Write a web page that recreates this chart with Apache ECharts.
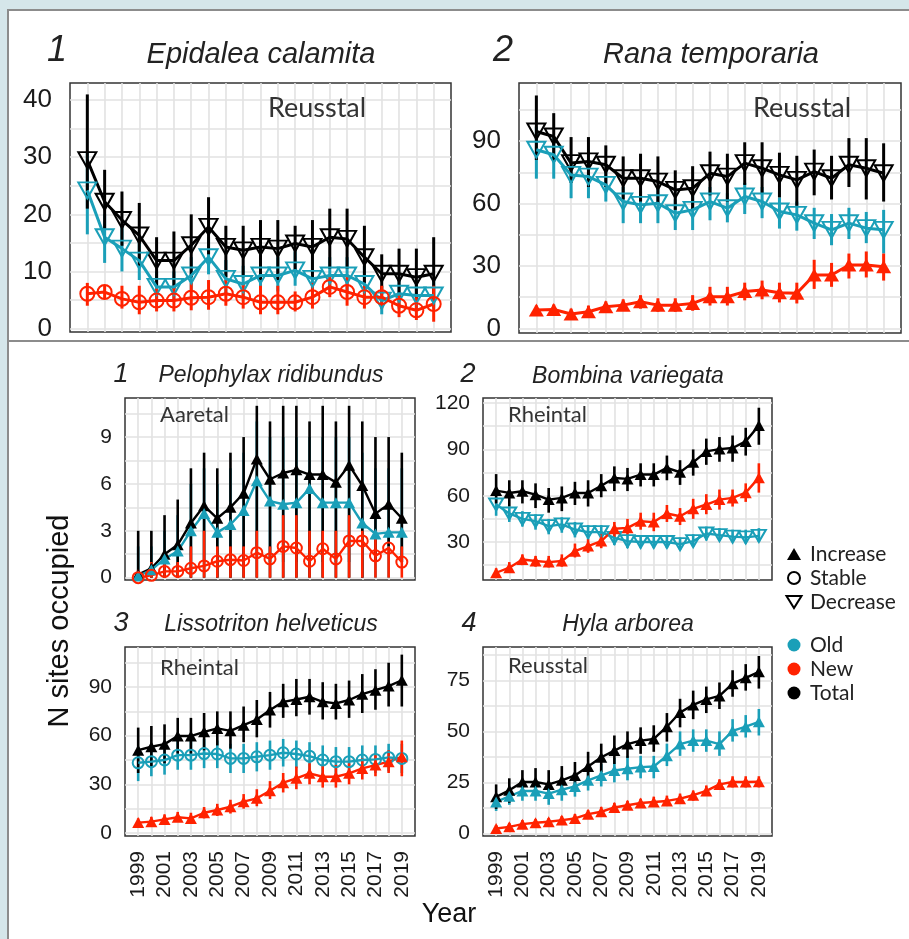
<!DOCTYPE html>
<html><head><meta charset="utf-8">
<script src="https://cdn.jsdelivr.net/npm/echarts@6.0.0/dist/echarts.min.js"></script>
<style>html,body{margin:0;padding:0;background:#d5e6ea;}#c{width:909px;height:939px;}</style>
</head><body><div id="c"></div>
<script>
// ---------- DATA ----------
const years = [1999,2000,2001,2002,2003,2004,2005,2006,2007,2008,2009,2010,2011,2012,2013,2014,2015,2016,2017,2018,2019];
const yearLabels = [1999,2001,2003,2005,2007,2009,2011,2013,2015,2017,2019];

// 1 Epidalea calamita (Reusstal)
const ecTotal   = [29.5,22.2,19,16.3,11.9,11.9,14.6,17.8,14.3,13.7,14.3,14,14.9,14.3,16,15.7,12.5,9.6,9.6,9,9.6];
const ecTotalHi = [41,27.8,24,22,16,17,20,23,18,18,19,19,18,19,21,21,18,13,14,14,16];
const ecTotalLo = [21,17.5,14.5,11,7.5,7,9,13,9,9,8.5,8.5,10,9,10.5,10.5,8,6,5.5,5,5];
const ecOld     = [24.2,16,14,11.9,7.3,7.3,9.3,12.5,8.7,7.8,9.3,9.3,10.2,8.7,9.3,9.3,7.8,4.9,6.1,5.8,5.8];
const ecOldHi   = [31,20,18,15.5,10,10,12.5,16,12,11,12.5,12.5,13.5,12,12.5,12.5,11,7.5,9,8.5,8.5];
const ecOldLo   = [16.5,11.5,10,8.5,5,5,6.5,9.5,6,5.5,6.5,6.5,7.5,6,6.5,6.5,5,2.5,3.5,3.5,3.5];
const ecNew     = [6.1,6.4,5.2,4.6,4.9,4.9,5.4,5.5,6.1,5.5,4.6,4.6,4.6,5.5,7.3,6.4,5.5,5.5,4,3.2,4.3];
const ecNewHi   = [8,7.5,7.5,7.5,7,7.5,8,8.5,8.5,8,7.5,7.5,6.5,8,9,9,7.5,7.5,6,5.5,7.5];
const ecNewLo   = [4,5.3,3.5,2.5,3,3,3.2,3.3,4,3.5,2.5,2.5,3,3.5,5.5,4,3.5,3.5,2,1.5,1.2];
const ecTicks   = [0,10,20,30,40];
const ecLines   = [0,5,10,15,20,25,30,35,40];

// 2 Rana temporaria (Reusstal)
const rtTotal   = [94.7,92.3,79.5,80.3,78.7,72.2,72.2,70.6,66.6,67.4,74.6,73,79.5,77,73.8,71.4,75.4,72.2,78.7,77,74.6];
const rtTotalHi = [112,103.5,92,92,88,82.7,84,82.7,76,78,85,84,89.5,89.5,84.5,83,86,83,91.5,91.5,89];
const rtTotalLo = [81,80,70,68,68,62,61,60,57,57,64,61,69,65,63,59,64,62,68,62,61];
const rtOld     = [85.9,83.5,73.8,73,69,61,59.4,60.2,55.4,57,61,57.8,63.4,61,56.2,54.6,50.6,47.4,50.6,48.2,47.4];
const rtOldHi   = [97,92,80,80,76,68,66,67,62,64,68,65,70,68,63,61,58,55,58,56,57];
const rtOldLo   = [72,72,62.6,62.6,61,50.6,50.6,50.6,47.3,47.3,52,51,55,53,48,47,43,40,43,41,36];
const rtNew     = [8.8,9.1,6.9,8,10.4,11.2,12.8,11.2,11.2,12,15.2,15.2,17.7,18.5,17.2,16.9,25.7,25.7,30.5,30.5,29.7];
const rtNewHi   = [11,11.5,9.5,11,13,14,16,14.5,14.5,16,20,20,22,23,22,22,33,31.5,36,37,36];
const rtNewLo   = [6.5,7,4.5,5.5,7.5,8.5,9.5,8,8,8.5,11,11,13.5,14,12.5,12,19,20,24,24.5,23];
const rtTicks   = [0,30,60,90];
const rtLines   = [0,15,30,45,60,75,90,105];

// B1 Pelophylax ridibundus (Aaretal)
const prTotal   = [0.2,0.6,1.5,2.1,3.5,4.6,3.8,4.5,5.4,7.6,6.3,6.7,6.9,6.6,6.6,6.1,7.2,5.9,4.1,4.7,3.8];
const prTotalHi = [3,3,4,5,7,8,7,8,9,11,10,11,11,10,11,10,11,10,9,9,8];
const prTotalLo = [0,0,0,0,0,0,0,0,0,0,0,0,0,0,0,0,0,0,1,2,1];
const prOld     = [0.1,0.5,1.2,1.7,3.0,4.1,2.9,3.4,4.3,6.2,4.9,4.7,4.8,5.7,4.8,4.8,4.8,3.5,2.8,2.9,2.9];
const prOldHi   = [2,2,3,4,6,7,6,7,8,10,9,9,9,9,9,9,9,8,7,7,7];
const prOldLo   = [0,0,0,0,0,1,0,0,1,2,1,1,1,2,1,1,1,0,0,0,1];
const prNew     = [0,0.15,0.4,0.4,0.6,0.75,1.05,1.15,1.1,1.6,1.2,2.0,1.9,1.05,1.85,1.2,2.35,2.35,1.4,1.9,1.0];
const prNewHi   = [0.5,1,1,1,2,3,2,2,2,3,2,4,4,3,3,3,4,3,3,2,2];
const prNewLo   = [0,0,0,0,0,0,0,0,0,0,0,0,0,0,0,0,0,0,0,0,0];
const prTicks   = [0,3,6,9];
const prLines   = [0,1.5,3,4.5,6,7.5,9,10.5];

// B2 Bombina variegata (Rheintal)
const bvTotal   = [63.3,61.8,62.9,60.7,57.5,58.6,61.8,61.8,66.5,71.5,70.9,73.7,73.7,78,75.2,81.6,88.7,90.2,90.9,95.2,105.5];
const bvTotalHi = [74,70,70,68,65,66,69,70,74,79,78,81,81,86,83,90,97,98,99,104,117];
const bvTotalLo = [55,53,55,52,49,50,54,53,59,63,63,66,66,70,67,73,80,82,82,86,93];
const bvOld     = [54.3,48.5,45,43.5,40.3,41.4,38.1,36.4,36.4,32.7,30.6,30,30,30,28.6,30.6,35.5,34.5,33.5,33,34];
const bvOldHi   = [59,53,50,48,45,46,43,41,41,37,35,34,34,34,33,35,40,39,38,38,39];
const bvOldLo   = [47,43,40,38,35,36,33,32,32,28,26,26,26,26,25,27,31,31,30,29,30];
const bvNew     = [10.1,13.4,18.7,17.7,17,17.7,24.1,27.4,30.6,38.6,39.2,43.5,42.9,48.5,46.7,51.5,54.3,57.5,58.6,62,71.7];
const bvNewHi   = [13,17,22,21,21,22,29,32,35,43,45,49,49,54,52,58,61,64,64,68,81];
const bvNewLo   = [7.5,10,15,14,13.5,14,20,23,26,33,34,38,37,43,41,45,48,51,53,56,62];
const bvTicks   = [30,60,90,120];
const bvLines   = [15,30,45,60,75,90,105,120];

// B3 Lissotriton helveticus (Rheintal)
const lhTotal   = [51.1,53.2,54.8,59.8,59.8,62.4,64.5,63,66.5,70,75.8,80.9,82.3,84,80.9,79.9,82,85.6,88.1,90.6,94.2];
const lhTotalHi = [65,66,67,71,71,74,75,75,78,82,87,92,95,95,93,92,94,98,101,105,110];
const lhTotalLo = [37,41,43,49,49,51,54,52,56,59,65,71,72,73,70,70,71,74,76,78,78];
const lhOld     = [43.3,44,45,48,48,49,48.7,46,46,47,48,49.5,48.7,47.4,45,44,44,45,45.4,46.6,46];
const lhOldHi   = [53,53,54,57,57,58,57,55,55,56,57,58,57,56,54,53,53,54,54,55,55];
const lhOldLo   = [32,35,36,39,39,40,40,37,37,38,39,41,40,39,36,35,35,36,37,38,37];
const lhNew     = [6.4,7,8.4,9.7,9,12.5,14.2,16.2,19.3,21.4,26.1,31,33.7,36.8,34.7,34.7,36.8,39.8,41.9,44,47];
const lhNewHi   = [9,10,11.5,13,12.5,16,18,20.5,24,27,32,37,41,43,42,42,43,46,48,51,57];
const lhNewLo   = [4,4.5,6,7,6.5,9,10.5,12,15,16.5,21,25,27,30,28,28,30,33,35,37,35];
const lhTicks   = [0,30,60,90];
const lhLines   = [0,15,30,45,60,75,90,105];

// B4 Hyla arborea (Reusstal)
const haTotal   = [17.9,21.1,25.2,25.2,24,26,28.4,32.8,37.3,40.6,43.8,45.5,46.3,52.3,59.3,63,65.7,67.4,73.4,76.3,79.2];
const haTotalHi = [24,27,31,32,31,33,35,40,44,48,50,52,53,59,66,70,72,74,80,83,87];
const haTotalLo = [12,15,19,19,18,20,22,26,30,34,37,39,40,45,52,56,59,61,67,70,71];
const haOld     = [15.4,18.2,20.8,20.8,19.5,21.4,23,26,28.4,30.8,31.7,32.5,32.8,38.1,43.8,45.5,45.5,43.8,50.3,52.3,54.7];
const haOldHi   = [19,23,25,26,25,27,28,32,34,37,38,38,38,44,50,51,51,50,56,58,61];
const haOldLo   = [11,14,16,16,14,16,18,21,23,25,26,27,27,33,38,40,40,38,45,47,48];
const haNew     = [2.4,3.2,4.5,5.2,5.7,6.5,7.3,9.4,10.6,12.7,13.8,14.9,15.4,15.9,17,18.7,20.8,24,25.2,25.2,25.3];
const haNewHi   = [4,5,6.5,7,7.5,8.5,9.5,11.5,13,15,16,17,18,18.5,19.5,21,23.5,26.5,28,28,28];
const haNewLo   = [1,1.5,2.5,3.5,4,4.5,5.5,7.5,8.5,10.5,11.5,12.5,13,13.5,14.5,16,18.5,21.5,22.5,22.5,22.5];
const haTicks   = [0,25,50,75];
const haLines   = [0,12.5,25,37.5,50,62.5,75,87.5];

// ---------- STYLE / LAYOUT ----------
const CYAN = '#1a9fb8', RED = '#ff2200', BLACK = '#000000';
const DOWN = 'path://M0,0L20,0L10,17.3Z';
const SANS = '"Liberation Sans", Arial, sans-serif';
const CAL = 'Lato, "Open Sans", sans-serif';

// s: [total, old, new] -> [colour, shape, values, lo, hi]
const panels = [
  {grid:{left:70,top:83,width:381,height:249}, ymin:-0.6, ymax:43, ticks:ecTicks, lines:ecLines, fs:26, lm:18, xl:false, big:true,
   s:[[BLACK,'down',ecTotal,ecTotalLo,ecTotalHi],[CYAN,'down',ecOld,ecOldLo,ecOldHi],[RED,'circle',ecNew,ecNewLo,ecNewHi]]},
  {grid:{left:519,top:83,width:382,height:250}, ymin:-2.2, ymax:118, ticks:rtTicks, lines:rtLines, fs:26, lm:18, xl:false, big:true,
   s:[[BLACK,'down',rtTotal,rtTotalLo,rtTotalHi],[CYAN,'down',rtOld,rtOldLo,rtOldHi],[RED,'up',rtNew,rtNewLo,rtNewHi]]},
  {grid:{left:125,top:398,width:290,height:182}, ymin:-0.15, ymax:11.5, ticks:prTicks, lines:prLines, fs:21, lm:13, xl:false, big:false,
   s:[[BLACK,'up',prTotal,prTotalLo,prTotalHi],[CYAN,'up',prOld,prOldLo,prOldHi],[RED,'circle',prNew,prNewLo,prNewHi]]},
  {grid:{left:483,top:398,width:289,height:182}, ymin:5.4, ymax:123.3, ticks:bvTicks, lines:bvLines, fs:21, lm:13, xl:false, big:false,
   s:[[BLACK,'up',bvTotal,bvTotalLo,bvTotalHi],[CYAN,'down',bvOld,bvOldLo,bvOldHi],[RED,'up',bvNew,bvNewLo,bvNewHi]]},
  {grid:{left:125,top:647,width:290,height:189}, ymin:-1.85, ymax:114.7, ticks:lhTicks, lines:lhLines, fs:21, lm:13, xl:true, big:false,
   s:[[BLACK,'up',lhTotal,lhTotalLo,lhTotalHi],[CYAN,'circle',lhOld,lhOldLo,lhOldHi],[RED,'up',lhNew,lhNewLo,lhNewHi]]},
  {grid:{left:483,top:647,width:289,height:189}, ymin:-1.3, ymax:91.4, ticks:haTicks, lines:haLines, fs:21, lm:13, xl:true, big:false,
   s:[[BLACK,'up',haTotal,haTotalLo,haTotalHi],[CYAN,'up',haOld,haOldLo,haOldHi],[RED,'up',haNew,haNewLo,haNewHi]]}
];

const grids = [], xAxes = [], yAxes = [], series = [];
panels.forEach((p, i) => {
  grids.push(Object.assign({show:true, backgroundColor:'#fff', borderColor:'#333', borderWidth:1.5, containLabel:false}, p.grid));
  xAxes.push({type:'value', gridIndex:i, min:1998, max:2020,
    axisLine:{show:false}, axisTick:{show:false, customValues:years},
    splitLine:{show:true, lineStyle:{color:'#e2e2e2', width:1.6}},
    axisLabel:{show:p.xl, customValues:yearLabels, rotate:90, fontSize:21, color:'#1a1a1a', fontFamily:SANS, margin:15, formatter:v=>String(v)}});
  yAxes.push({type:'value', gridIndex:i, min:p.ymin, max:p.ymax,
    axisLine:{show:false}, axisTick:{show:false, customValues:p.lines},
    splitLine:{show:true, lineStyle:{color:'#e2e2e2', width:1.6}},
    axisLabel:{show:true, customValues:p.ticks, fontSize:p.fs, color:'#1a1a1a', fontFamily:SANS, margin:p.lm, formatter:v=>String(v)}});
  const lw = p.big ? 3 : 2.4;
  const ebw = p.big ? 3 : 2.6;
  // error bars first: old (under), total, new
  [p.s[1], p.s[0], p.s[2]].forEach(([col, shape, v, lo, hi]) => {
    series.push({type:'custom', xAxisIndex:i, yAxisIndex:i, silent:true, animation:false,
      data: years.map((y, k) => [y, lo[k], hi[k]]),
      encode:{x:0, y:[1,2]},
      renderItem:(params, api) => {
        const a = api.coord([api.value(0), api.value(1)]);
        const b = api.coord([api.value(0), api.value(2)]);
        return {type:'line', shape:{x1:a[0], y1:a[1], x2:b[0], y2:b[1]}, style:{stroke:col, lineWidth:ebw}};
      }});
  });
  // lines + symbols: total, old, new
  p.s.forEach(([col, shape, v, lo, hi]) => {
    let symbol, size, item;
    if (shape === 'up') { symbol = 'triangle'; size = p.big ? [15,13] : [12,11]; item = {color:col, borderWidth:0}; }
    else if (shape === 'down') { symbol = DOWN; size = p.big ? [18,16] : [14,12]; item = {color:'rgba(0,0,0,0)', borderColor:col, borderWidth:2}; }
    else { symbol = 'circle'; size = p.big ? 14 : 11; item = {color:'rgba(0,0,0,0)', borderColor:col, borderWidth:2}; }
    series.push({type:'line', xAxisIndex:i, yAxisIndex:i, silent:true, animation:false,
      data: years.map((y, k) => [y, v[k]]),
      symbol:symbol, symbolSize:size, symbolKeepAspect:false, showAllSymbol:true,
      lineStyle:{color:col, width:lw}, itemStyle:item, emphasis:{disabled:true}});
  });
});

function txt(x, y, text, font, extra) {
  return Object.assign({type:'text', x:x, y:y, silent:true, z:100,
    style:Object.assign({text:text, font:font, fill:'#222', align:'center', verticalAlign:'middle'}, extra||{})});
}

const graphic = [
  {type:'rect', shape:{x:8, y:10, width:905, height:935}, style:{fill:'#ffffff', stroke:'#8c8c8c', lineWidth:2}, z:-10, silent:true},
  {type:'line', shape:{x1:8, y1:341, x2:909, y2:341}, style:{stroke:'#8c8c8c', lineWidth:2}, z:-9, silent:true},
  txt(57, 51, '1', `italic 36px ${SANS}`),
  txt(261, 55, 'Epidalea calamita', `italic 29px ${SANS}`),
  txt(503, 51, '2', `italic 36px ${SANS}`),
  txt(711, 55, 'Rana temporaria', `italic 29px ${SANS}`),
  txt(317, 108, 'Reusstal', `27px ${CAL}`, {fill:'#333'}),
  txt(802, 108, 'Reusstal', `27px ${CAL}`, {fill:'#333'}),
  txt(121, 374, '1', `italic 27px ${SANS}`),
  txt(271, 376, 'Pelophylax ridibundus', `italic 23px ${SANS}`),
  txt(468, 374, '2', `italic 27px ${SANS}`),
  txt(628, 377, 'Bombina variegata', `italic 23px ${SANS}`),
  txt(121, 623, '3', `italic 27px ${SANS}`),
  txt(271, 625, 'Lissotriton helveticus', `italic 23px ${SANS}`),
  txt(469, 623, '4', `italic 27px ${SANS}`),
  txt(628, 625, 'Hyla arborea', `italic 23px ${SANS}`),
  txt(160, 415, 'Aaretal', `22px ${CAL}`, {fill:'#333', align:'left'}),
  txt(508, 415, 'Rheintal', `22px ${CAL}`, {fill:'#333', align:'left'}),
  txt(160, 668, 'Rheintal', `22px ${CAL}`, {fill:'#333', align:'left'}),
  txt(508, 666, 'Reusstal', `22px ${CAL}`, {fill:'#333', align:'left'}),
  Object.assign(txt(60, 621, 'N sites occupied', `29px ${SANS}`, {fill:'#111'}), {rotation:Math.PI/2}),
  txt(449, 915, 'Year', `27px ${SANS}`, {fill:'#111'}),
  // legend
  {type:'polygon', shape:{points:[[787,560],[801,560],[794,548]]}, style:{fill:'#000'}, silent:true},
  {type:'circle', shape:{cx:794, cy:578, r:6}, style:{fill:'none', stroke:'#000', lineWidth:2}, silent:true},
  {type:'polygon', shape:{points:[[786.5,596],[801.5,596],[794,608]]}, style:{fill:'none', stroke:'#000', lineWidth:2}, silent:true},
  {type:'circle', shape:{cx:794, cy:645, r:6.5}, style:{fill:CYAN}, silent:true},
  {type:'circle', shape:{cx:794, cy:669, r:6.5}, style:{fill:RED}, silent:true},
  {type:'circle', shape:{cx:794, cy:693, r:6.5}, style:{fill:'#000'}, silent:true},
  txt(810, 554, 'Increase', `21px ${CAL}`, {align:'left'}),
  txt(810, 578, 'Stable', `21px ${CAL}`, {align:'left'}),
  txt(810, 602, 'Decrease', `21px ${CAL}`, {align:'left'}),
  txt(810, 645, 'Old', `21px ${CAL}`, {align:'left'}),
  txt(810, 669, 'New', `21px ${CAL}`, {align:'left'}),
  txt(810, 693, 'Total', `21px ${CAL}`, {align:'left'})
];

const chart = echarts.init(document.getElementById('c'), null, {renderer:'canvas'});
chart.setOption({
  backgroundColor:'#d5e6ea',
  animation:false,
  grid:grids, xAxis:xAxes, yAxis:yAxes, series:series, graphic:graphic
});
</script></body></html>
